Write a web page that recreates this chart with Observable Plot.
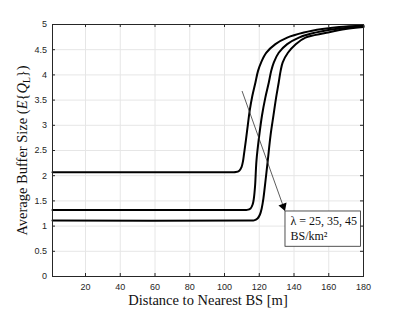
<!DOCTYPE html>
<html><head><meta charset="utf-8">
<script src="https://cdn.jsdelivr.net/npm/d3@7"></script>
<script src="https://cdn.jsdelivr.net/npm/@observablehq/plot@0.6"></script>
<style>body{margin:0;background:#fff}</style>
</head><body><div id="chart"></div>
<script>
// ---- data ----
const xTicks = [20, 40, 60, 80, 100, 120, 140, 160, 180];
const yTicks = [0, 0.5, 1, 1.5, 2, 2.5, 3, 3.5, 4, 4.5, 5];
const seriesLabels = ["λ = 25", "λ = 35", "λ = 45"];

const distance25 = [1, 104, 106.5, 108.5, 109.8, 110.6, 111.3, 112.3, 113.4, 114.5, 116, 117.8, 119.3, 121.1, 124.1, 129.3, 136.1, 145.7, 156.3, 166, 180];
const buffer25   = [2.07, 2.07, 2.073, 2.1, 2.17, 2.28, 2.45, 2.7, 3.0, 3.29, 3.58, 3.85, 4.08, 4.25, 4.44, 4.61, 4.74, 4.84, 4.91, 4.95, 4.98];

const distance35 = [1, 110, 113, 115, 116.2, 116.9, 117.6, 118.4, 120, 121.6, 123.5, 125.5, 126.9, 128.4, 131.2, 136.1, 142.8, 150, 163.9, 172, 180];
const buffer35   = [1.32, 1.32, 1.322, 1.35, 1.43, 1.55, 1.8, 2.3, 2.8, 3.2, 3.55, 3.85, 4.08, 4.25, 4.44, 4.61, 4.74, 4.82, 4.91, 4.94, 4.96];

const distance45 = [1, 114, 117, 119, 120.4, 121.4, 122.4, 123.6, 124.9, 126.5, 128.2, 129.7, 131.2, 132.3, 133.5, 136.5, 141, 146.6, 158, 169.7, 180];
const buffer45   = [1.11, 1.11, 1.113, 1.15, 1.23, 1.35, 1.55, 1.9, 2.3, 2.8, 3.2, 3.55, 3.85, 4.08, 4.25, 4.44, 4.61, 4.74, 4.83, 4.91, 4.95];

// annotation (data coordinates)
const arrowStart = [110.1, 3.68];
const arrowEnd = [134.7, 1.31];
const boxCorners = [135.1, 0.59, 178.5, 1.29]; // x1, y1, x2, y2
const boxLines = ["λ = 25, 35, 45", "BS/km²"];

const xLabel = "Distance to Nearest BS [m]";
const yLabel = "Average Buffer Size (E{QL})";

// ---- build ----
const rows = [];
[[distance25, buffer25], [distance35, buffer35], [distance45, buffer45]].forEach(([xs, ys], i) => {
  xs.forEach((d, j) => rows.push({s: seriesLabels[i], d, b: ys[j]}));
});

const W = 402, H = 311, mL = 52, mR = 39, mT = 24, mB = 35;
const pw = W - mL - mR, ph = H - mT - mB;
const xDomain = [1, 180], yDomain = [0, 5];
const sx = Plot.scale({x: {domain: xDomain, range: [mL, W - mR]}});
const sy = Plot.scale({y: {domain: yDomain, range: [H - mB, mT]}});
const px0 = sx.apply(arrowStart[0]), py0 = sy.apply(arrowStart[1]);
const px1 = sx.apply(arrowEnd[0]), py1 = sy.apply(arrowEnd[1]);
const len = Math.hypot(px1 - px0, py1 - py0);
const ux = (px1 - px0) / len, uy = (py1 - py0) / len;
const angle = Math.atan2(ux, -uy) * 180 / Math.PI;
const headR = 3.2;
const headH = Math.sqrt(Math.PI * headR * headR * Math.sqrt(3)) * Math.sqrt(3) / 2; // triangle height
const back = headH * 2 / 3;

const axColor = "#262626";
const tick = 3;

const plot = Plot.plot({
  width: W, height: H,
  marginLeft: mL, marginRight: mR, marginTop: mT, marginBottom: mB,
  style: {fontFamily: "'Liberation Sans', Arial, sans-serif", fontSize: "9px", color: axColor, background: "#fff", overflow: "visible"},
  x: {domain: xDomain},
  y: {domain: yDomain},
  marks: [
    Plot.gridX(xTicks, {stroke: "#e6e6e6", strokeOpacity: 1}),
    Plot.gridY(yTicks, {stroke: "#e6e6e6", strokeOpacity: 1}),
    Plot.line(rows, {x: "d", y: "b", z: "s", stroke: "black", strokeWidth: 2, curve: "catmull-rom"}),
    Plot.ruleX(xTicks, {x: d => d, insetTop: ph - tick, stroke: axColor}),
    Plot.ruleX(xTicks, {x: d => d, insetBottom: ph - tick, stroke: axColor}),
    Plot.ruleY(yTicks, {y: d => d, insetRight: pw - tick, stroke: axColor}),
    Plot.ruleY(yTicks, {y: d => d, insetLeft: pw - tick, stroke: axColor}),
    Plot.axisX(xTicks, {tickSize: 0, tickPadding: 7, label: null, tickFormat: d => String(d)}),
    Plot.axisY(yTicks, {tickSize: 0, tickPadding: 5.5, label: null, tickFormat: d => String(d)}),
    Plot.frame({stroke: axColor, strokeWidth: 1}),
    Plot.link([0], {x1: () => arrowStart[0], y1: () => arrowStart[1], x2: () => arrowEnd[0], y2: () => arrowEnd[1], stroke: "#333", strokeWidth: 0.8}),
    Plot.dot([0], {x: () => arrowEnd[0], y: () => arrowEnd[1], symbol: "triangle", r: headR, rotate: angle, fill: "black", stroke: "none", dx: -ux * back, dy: -uy * back}),
    Plot.rect([0], {x1: () => boxCorners[0], y1: () => boxCorners[1], x2: () => boxCorners[2], y2: () => boxCorners[3], fill: "white", stroke: axColor, strokeWidth: 0.8}),
    Plot.text([boxLines.join("\n")], {x: () => boxCorners[0], y: () => boxCorners[3], text: d => d, textAnchor: "start", lineAnchor: "top", dx: 5, dy: 3, lineHeight: 1.25, fontSize: 12, fontFamily: "'Liberation Serif', serif", fill: "#111"}),
    Plot.text([xLabel], {frameAnchor: "bottom", text: d => d, dy: 24, lineAnchor: "middle", fontSize: 14.5, fontFamily: "'Liberation Serif', serif", fill: "#111"}),
    Plot.text([yLabel], {frameAnchor: "left", text: d => d, dx: -30, rotate: -90, lineAnchor: "middle", fontSize: 14.5, fontFamily: "'Liberation Serif', serif", fill: "#111"})
  ]
});
document.getElementById("chart").appendChild(plot);

// rich formatting for the y label: italic E, Q with subscript L
d3.select(plot).selectAll("text").each(function() {
  if (this.textContent === yLabel) {
    const t = d3.select(this);
    t.text(null).attr("text-anchor", "middle");
    t.append("tspan").text("Average Buffer Size (");
    t.append("tspan").attr("font-style", "italic").text("E");
    t.append("tspan").text("{");
    t.append("tspan").attr("font-style", "italic").text("Q");
    t.append("tspan").attr("font-size", "9.5px").attr("baseline-shift", "-3").text("L");
    t.append("tspan").text("})");
  }
});
</script>
</body></html>
